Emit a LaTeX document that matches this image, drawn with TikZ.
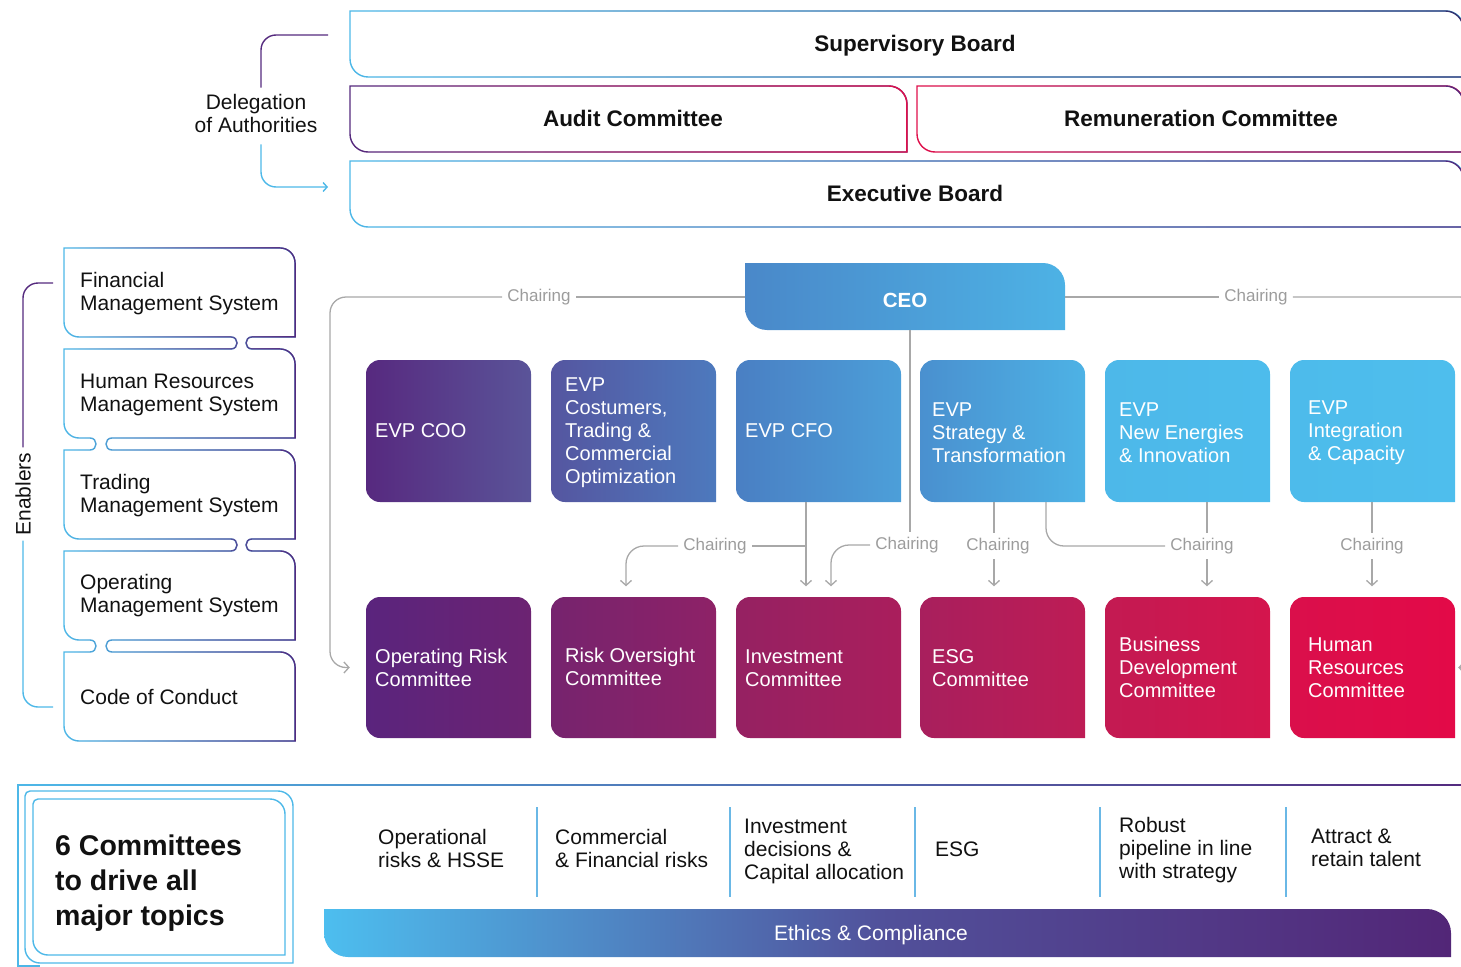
\documentclass[tikz,border=0pt]{standalone}
\usepackage{fontspec}
\setmainfont{Liberation Sans}
\usetikzlibrary{arrows.meta,fadings}

% palette
\definecolor{lb}{HTML}{4DB8E8}
\definecolor{pu}{HTML}{552A7E}
\definecolor{navy}{HTML}{36306E}
\definecolor{crim}{HTML}{E0104B}
\definecolor{gline}{HTML}{A8A8A8}
\definecolor{glab}{HTML}{9C9C9C}
\definecolor{ink}{HTML}{111111}
\definecolor{sepc}{HTML}{6AB8E6}
\definecolor{ceoL}{HTML}{4A88C9}\definecolor{ceoR}{HTML}{4DB2E5}
\definecolor{e1L}{HTML}{57297F}\definecolor{e1R}{HTML}{5A5499}
\definecolor{e2L}{HTML}{5556A0}\definecolor{e2R}{HTML}{4D79BD}
\definecolor{e3L}{HTML}{4A7FC3}\definecolor{e3R}{HTML}{4C9FD9}
\definecolor{e4L}{HTML}{4A90CF}\definecolor{e4R}{HTML}{4DB2E5}
\definecolor{e5L}{HTML}{4DB8E9}\definecolor{e5R}{HTML}{4DBCEC}
\definecolor{e6L}{HTML}{4DBBEB}\definecolor{e6R}{HTML}{4EBEED}
\definecolor{c1L}{HTML}{5A247D}\definecolor{c1R}{HTML}{6C2372}
\definecolor{c2L}{HTML}{76236E}\definecolor{c2R}{HTML}{8E2267}
\definecolor{c3L}{HTML}{952162}\definecolor{c3R}{HTML}{AA1E5C}
\definecolor{c4L}{HTML}{A81F5D}\definecolor{c4R}{HTML}{BE1C55}
\definecolor{c5L}{HTML}{C31A52}\definecolor{c5R}{HTML}{D4154D}
\definecolor{c6L}{HTML}{DA0F4B}\definecolor{c6R}{HTML}{E30A48}
\definecolor{ethL}{HTML}{4DBEEF}\definecolor{ethM}{HTML}{51509A}\definecolor{ethR}{HTML}{522677}

% transparent on the left, opaque on the right
\tikzfading[name=fadeeast, left color=transparent!100, right color=transparent!0]

\tikzset{
  % box with individual corner radii: left, top, right, bottom, r_tl, r_tr, r_br, r_bl
  cbox/.style n args={8}{insert path={({#1+#5},#2) -- ({#3-#6},#2)
      .. controls ({#3-0.45*#6},#2) and (#3,{#2+0.45*#6}) .. (#3,{#2+#6})
      -- (#3,{#4-#7})
      .. controls (#3,{#4-0.45*#7}) and ({#3-0.45*#7},#4) .. ({#3-#7},#4)
      -- ({#1+#8},#4)
      .. controls ({#1+0.45*#8},#4) and (#1,{#4-0.45*#8}) .. (#1,{#4-#8})
      -- (#1,{#2+#5})
      .. controls (#1,{#2+0.45*#5}) and ({#1+0.45*#5},#2) .. ({#1+#5},#2) -- cycle}},
  outline/.style={line width=1.4pt},
  conn/.style={draw=gline, line width=1.3pt},
  arr/.style={conn, -{Straight Barb[length=5pt,width=11pt]}},
  chair/.style={text=glab, font=\fontsize{17}{17}\selectfont, inner sep=5pt},
  title/.style={font=\bfseries\fontsize{22.5}{26}\selectfont, text=ink},
  body/.style={font=\fontsize{21}{23}\selectfont, text=ink, align=left, inner sep=0pt},
  wtxt/.style={font=\fontsize{20}{23}\selectfont, text=white, align=left, anchor=west, inner sep=0pt},
  frame/.style={draw=none, minimum width=165pt, minimum height=142pt, inner sep=0pt},
  % closed outline of the stacked enabler panels
  enpath/.style={insert path={(64,248) -- (280,248) .. controls (288.3,248) and (295,254.7) .. (295,263)
      -- (295,337) -- (252,337) .. controls (244,337) and (244,349) .. (252,349)
      -- (280,349) .. controls (288.3,349) and (295,355.7) .. (295,364)
      -- (295,438) -- (112,438) .. controls (104,438) and (104,450) .. (112,450)
      -- (280,450) .. controls (288.3,450) and (295,456.7) .. (295,465)
      -- (295,539) -- (252,539) .. controls (244,539) and (244,551) .. (252,551)
      -- (280,551) .. controls (288.3,551) and (295,557.7) .. (295,566)
      -- (295,640) -- (112,640) .. controls (104,640) and (104,652) .. (112,652)
      -- (280,652) .. controls (288.3,652) and (295,658.7) .. (295,667)
      -- (295,741) -- (79,741) .. controls (70.7,741) and (64,734.3) .. (64,726)
      -- (64,652) -- (90,652) .. controls (98,652) and (98,640) .. (90,640)
      -- (79,640) .. controls (70.7,640) and (64,633.3) .. (64,625)
      -- (64,551) -- (231,551) .. controls (239,551) and (239,539) .. (231,539)
      -- (79,539) .. controls (70.7,539) and (64,532.3) .. (64,524)
      -- (64,450) -- (90,450) .. controls (98,450) and (98,438) .. (90,438)
      -- (79,438) .. controls (70.7,438) and (64,431.3) .. (64,423)
      -- (64,349) -- (231,349) .. controls (239,349) and (239,337) .. (231,337)
      -- (79,337) .. controls (70.7,337) and (64,330.3) .. (64,322) -- cycle}},
}

% outline whose colour runs from #1 (left) to #2 (right)
\newcommand\gradoutline[3]{%
  \draw[outline,#1] [cbox=#3];
  \draw[outline,#2,path fading=fadeeast] [cbox=#3];}

\begin{document}
\begin{tikzpicture}[x=1pt,y=-1pt]
\useasboundingbox (0,0) rectangle (1461,966);
\clip (0,0) rectangle (1461,966);

% ---------- boards ----------
\gradoutline{lb}{navy}{{350}{11}{1464}{77}{0}{18}{0}{18}}
\gradoutline{pu}{crim}{{350}{86}{907}{152}{0}{18}{0}{18}}
\gradoutline{crim}{pu}{{917}{86}{1464}{152}{0}{18}{0}{18}}
\gradoutline{lb}{pu}{{350}{161}{1464}{227}{0}{18}{0}{18}}
\node[title] (sup) at (915,46) {Supervisory Board};
\node[title] (aud) at (633,118) {Audit Committee};
\node[title] (rem) at (1201,118) {Remuneration Committee};
\node[title] (exe) at (915,193) {Executive Board};

% delegation bracket
\node[body, align=center] (deleg) at (256,113) {Delegation\\of Authorities};
\coordinate (dtop) at (328,35);
\coordinate (dend) at (328,187);
\draw[outline, pu, rounded corners=15pt] (dtop) -| ([xshift=5pt,yshift=6pt]deleg.north);
\draw[outline, lb, rounded corners=15pt, -{Straight Barb[length=4pt,width=9pt]}]
  ([xshift=5pt,yshift=-12pt]deleg.south) |- (dend);

% ---------- enablers ----------
\draw[outline, lb] [enpath];
\draw[outline, pu, path fading=fadeeast] [enpath];
\node[body, anchor=west] (fms) at (80,294) {Financial\\Management System};
\node[body, anchor=west] (hrms) at (80,395) {Human Resources\\Management System};
\node[body, anchor=west] (tms) at (80,496) {Trading\\Management System};
\node[body, anchor=west] (oms) at (80,596) {Operating\\Management System};
\node[body, anchor=west] (coc) at (80,697) {Code of Conduct};

\node[body, rotate=90, inner sep=5pt] (enab) at (23,494) {Enablers};
\coordinate (etop) at (53,283);
\coordinate (ebot) at (53,707);
\draw[outline, pu, rounded corners=15pt] (etop) -| (enab.east);
\draw[outline, lb, rounded corners=15pt] (enab.west) |- (ebot);

% ---------- CEO ----------
\shade[left color=ceoL, right color=ceoR] [cbox={745}{263}{1065}{330}{0}{22}{0}{22}];
\node[draw=none, minimum width=320pt, minimum height=67pt, inner sep=0pt] (ceo) at (905,296.5) {};
\node[font=\bfseries\fontsize{20.5}{24}\selectfont, text=white] (ceot) at (905,300) {CEO};

% ---------- EVP row ----------
\shade[left color=e1L, right color=e1R] [cbox={366}{360}{531}{502}{14}{14}{0}{14}];
\shade[left color=e2L, right color=e2R] [cbox={551}{360}{716}{502}{14}{14}{0}{14}];
\shade[left color=e3L, right color=e3R] [cbox={736}{360}{901}{502}{14}{14}{0}{14}];
\shade[left color=e4L, right color=e4R] [cbox={920}{360}{1085}{502}{14}{14}{0}{14}];
\shade[left color=e5L, right color=e5R] [cbox={1105}{360}{1270}{502}{14}{14}{0}{14}];
\shade[left color=e6L, right color=e6R] [cbox={1290}{360}{1455}{502}{14}{14}{0}{14}];
\node[frame] (coo) at (448.5,431) {};
\node[frame] (cto) at (633.5,431) {};
\node[frame] (cfo) at (818.5,431) {};
\node[frame] (stg) at (1002.5,431) {};
\node[frame] (nen) at (1187.5,431) {};
\node[frame] (itc) at (1372.5,431) {};
\node[wtxt] (coot) at (375,431) {EVP COO};
\node[wtxt] (ctot) at (565,433) {EVP\\Costumers,\\Trading \&\\Commercial\\Optimization};
\node[wtxt] (cfot) at (745,431) {EVP CFO};
\node[wtxt] (stgt) at (932,433) {EVP\\Strategy \&\\Transformation};
\node[wtxt] (nent) at (1119,433) {EVP\\New Energies\\\& Innovation};
\node[wtxt] (itct) at (1308,433) {EVP\\Integration\\\& Capacity};

% ---------- committee row ----------
\shade[left color=c1L, right color=c1R] [cbox={366}{597}{531}{738}{14}{14}{0}{14}];
\shade[left color=c2L, right color=c2R] [cbox={551}{597}{716}{738}{14}{14}{0}{14}];
\shade[left color=c3L, right color=c3R] [cbox={736}{597}{901}{738}{14}{14}{0}{14}];
\shade[left color=c4L, right color=c4R] [cbox={920}{597}{1085}{738}{14}{14}{0}{14}];
\shade[left color=c5L, right color=c5R] [cbox={1105}{597}{1270}{738}{14}{14}{0}{14}];
\shade[left color=c6L, right color=c6R] [cbox={1290}{597}{1455}{738}{14}{14}{0}{14}];
\node[frame] (orc) at (448.5,667.5) {};
\node[frame] (roc) at (633.5,667.5) {};
\node[frame] (inv) at (818.5,667.5) {};
\node[frame] (esg) at (1002.5,667.5) {};
\node[frame] (bdc) at (1187.5,667.5) {};
\node[frame] (hrc) at (1372.5,667.5) {};
\node[wtxt] (orct) at (375,668) {Operating Risk\\Committee};
\node[wtxt] (roct) at (565,667) {Risk Oversight\\Committee};
\node[wtxt] (invt) at (745,668) {Investment\\Committee};
\node[wtxt] (esgt) at (932,668) {ESG\\Committee};
\node[wtxt] (bdct) at (1119,667.5) {Business\\Development\\Committee};
\node[wtxt] (hrct) at (1308,667.5) {Human\\Resources\\Committee};

% ---------- chairing connectors ----------
\node[chair] (ch1) at (539,297) {Chairing};
\draw[conn] ([yshift=-0.5pt]ceo.west) -- (ch1.east);
\draw[arr, rounded corners=16pt, shorten >=16pt] (ch1.west) -- (330,297) |- (orc.west);

\node[chair] (ch2) at (1256,297) {Chairing};
\draw[conn] ([yshift=-0.5pt]ceo.east) -- (ch2.west);
\draw[arr, rounded corners=16pt, shorten >=3pt] (ch2.east) -- (1476,297) |- (hrc.east);

\node[chair] (ch4) at (907,545) {Chairing};
\draw[conn] ([xshift=5pt]ceo.south) -- ([xshift=5pt]ceo.south |- ch4.north);
\draw[arr, rounded corners=18pt, shorten >=10pt] (ch4.west) -| (831,0 |- inv.north);

\node[chair] (ch3) at (715,546) {Chairing};
\draw[arr, shorten >=10pt] (806,0 |- cfo.south) -- (806,0 |- inv.north);
\draw[conn] (806,0 |- ch3.east) -- (ch3.east);
\draw[arr, rounded corners=18pt, shorten >=10pt] (ch3.west) -| (626,0 |- roc.north);

\node[chair] (ch5) at (998,546) {Chairing};
\draw[conn] (994,0 |- stg.south) -- (994,0 |- ch5.north);
\draw[arr, shorten >=10pt] (994,0 |- ch5.south) -- (994,0 |- esg.north);

\node[chair] (ch6) at (1202,546) {Chairing};
\draw[conn, rounded corners=18pt] (1046,0 |- stg.south) |- (ch6.west);
\draw[conn] (1207,0 |- nen.south) -- (1207,0 |- ch6.north);
\draw[arr, shorten >=10pt] (1207,0 |- ch6.south) -- (1207,0 |- bdc.north);

\node[chair] (ch7) at (1372,546) {Chairing};
\draw[conn] (1372,0 |- itc.south) -- (1372,0 |- ch7.north);
\draw[arr, shorten >=10pt] (1372,0 |- ch7.south) -- (1372,0 |- hrc.north);

% ---------- bottom panel ----------
\draw[outline, lb] (1480,785) -- (18,785) -- (18,966) [rounded corners=12pt] -- (40,966);
\draw[outline, pu, path fading=fadeeast] (1480,785) -- (18,785) -- (18,966) [rounded corners=12pt] -- (40,966);
\draw[outline, lb] [cbox={25}{791}{293}{963}{5}{15}{0}{15}];
\draw[outline, lb] [cbox={33}{799}{285}{955}{5}{15}{0}{15}];
\node[font=\bfseries\fontsize{28.5}{35}\selectfont, text=ink, align=left, anchor=west, inner sep=0pt]
  (six) at (55,883) {6 Committees\\to drive all\\major topics};

\foreach \sx in {537,730,915,1100,1286}
  \draw[sepc, line width=1.5pt] (\sx,807) -- (\sx,897);

\node[body, anchor=west] (tp1) at (378,848) {Operational\\risks \& HSSE};
\node[body, anchor=west] (tp2) at (555,848) {Commercial\\\& Financial risks};
\node[body, anchor=west] (tp3) at (744,851) {Investment\\decisions \&\\Capital allocation};
\node[body, anchor=west] (tp4) at (935,849) {ESG};
\node[body, anchor=west] (tp5) at (1119,850) {Robust\\pipeline in line\\with strategy};
\node[body, anchor=west] (tp6) at (1311,848) {Attract \&\\retain talent};

\shade[left color=ethL, right color=ethR, middle color=ethM] [cbox={324}{909}{1451}{957}{0}{24}{0}{24}];
\node[font=\fontsize{21}{23}\selectfont, text=white] (eth) at (871,935) {Ethics \& Compliance};

\end{tikzpicture}
\end{document}
